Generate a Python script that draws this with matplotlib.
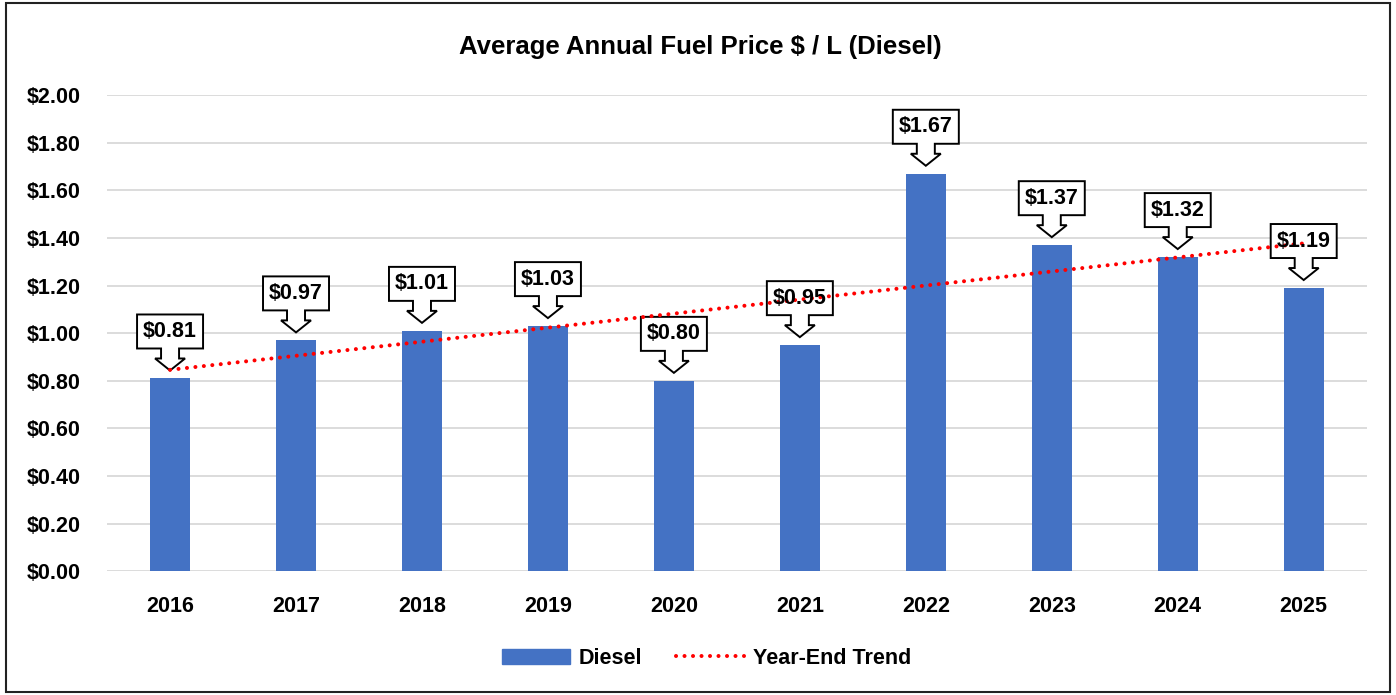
import numpy as np
import matplotlib
matplotlib.use('Agg')
import matplotlib.pyplot as plt
import matplotlib.transforms as mtransforms
from matplotlib.patches import Polygon, Rectangle
from matplotlib.lines import Line2D

years = ['2016', '2017', '2018', '2019', '2020', '2021', '2022', '2023', '2024', '2025']
diesel = [0.81, 0.97, 1.01, 1.03, 0.80, 0.95, 1.67, 1.37, 1.32, 1.19]
yticks = [0.0, 0.2, 0.4, 0.6, 0.8, 1.0, 1.2, 1.4, 1.6, 1.8, 2.0]

FONT = ['Liberation Sans Narrow', 'Liberation Sans', 'DejaVu Sans']
plt.rcParams['font.family'] = FONT

DOTS = (0, (0.01, 2.1))

fig = plt.figure(figsize=(13.96, 6.95), dpi=100)
ax = fig.add_axes([0.0767, 0.178, 0.9023, 0.685])

x = np.arange(len(years))
ax.bar(x, diesel, width=0.32, color='#4472C4', zorder=2)

# linear trend
k, b = np.polyfit(x, diesel, 1)
ax.plot(x, k * x + b, color='red', linestyle=DOTS, linewidth=2.9,
        dash_capstyle='round', zorder=4)

ax.set_xlim(-0.5, len(years) - 0.5)
ax.set_ylim(0, 2.0)
ax.set_yticks(yticks)
ax.set_yticklabels(['${:.2f}'.format(v) for v in yticks])
ax.set_xticks(x)
ax.set_xticklabels(years)
ax.grid(axis='y', color='#d9d9d9', linewidth=1.3, zorder=0)
ax.set_axisbelow(True)
for s in ax.spines.values():
    s.set_visible(False)
ax.tick_params(length=0, labelsize=15.5)
ax.tick_params(axis='y', pad=19)
ax.tick_params(axis='x', pad=18)
for lab in ax.get_xticklabels() + ax.get_yticklabels():
    lab.set_fontweight('bold')

# callout shape in pixels, relative to arrow tip
shape = [(-33, 22), (-33, 56), (33, 56), (33, 22), (9, 22), (9, 12), (15, 12),
         (0, 0), (-15, 12), (-9, 12), (-9, 22)]
for xi, v in zip(x, diesel):
    trans = mtransforms.Affine2D().translate(0, 8) + \
        mtransforms.ScaledTranslation(xi, v, ax.transData)
    ax.add_patch(Polygon(shape, closed=True, transform=trans, facecolor='white',
                         edgecolor='black', linewidth=1.4, zorder=3, clip_on=False))
    ax.annotate('${:.2f}'.format(v), xy=(xi, v), xytext=(0, 39 + 8),
                textcoords='offset pixels', ha='center', va='center',
                fontsize=15.5, fontweight='bold', zorder=5)

fig.text(0.502, 0.933, 'Average Annual Fuel Price $ / L (Diesel)', ha='center',
         va='center', fontsize=18.5, fontweight='bold')

handles = [Rectangle((0, 0), 1, 1, color='#4472C4'),
           Line2D([], [], color='red', linestyle=DOTS, linewidth=2.9,
                  dash_capstyle='round')]
leg = fig.legend(handles, ['Diesel', 'Year-End Trend'], loc='center',
                 bbox_to_anchor=(0.506, 0.053), ncol=2, frameon=False,
                 prop={'size': 15.5, 'weight': 'bold', 'family': FONT},
                 handlelength=3.15, handleheight=0.7, columnspacing=1.6,
                 handletextpad=0.4)

fig.patches.append(Rectangle((0.004, 0.004), 0.992, 0.991, transform=fig.transFigure,
                             fill=False, edgecolor='#222222', linewidth=1.5))

fig.savefig('out.png', dpi=100)
